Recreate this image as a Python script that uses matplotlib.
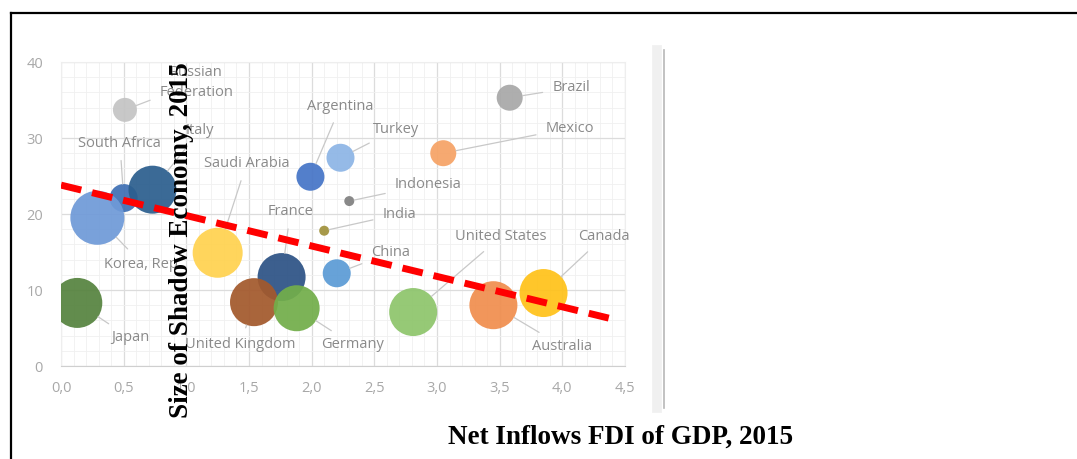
import matplotlib
matplotlib.use("Agg")
import matplotlib.pyplot as plt
from matplotlib.lines import Line2D
from matplotlib.ticker import MultipleLocator, FixedLocator

# data
countries = ["Japan", "South Africa", "Italy", "Korea, Rep.", "Russian\nFederation",
             "Saudi Arabia", "France", "United Kingdom", "Germany", "Argentina",
             "Turkey", "Indonesia", "India", "China", "United States", "Mexico",
             "Brazil", "Australia", "Canada"]
fdi = [0.13, 0.50, 0.73, 0.29, 0.51, 1.25, 1.76, 1.54, 1.88, 1.99,
       2.23, 2.30, 2.10, 2.20, 2.81, 3.05, 3.58, 3.45, 3.85]
shadow = [8.3, 22.1, 23.2, 19.5, 33.7, 14.9, 11.7, 8.4, 7.6, 24.9,
          27.4, 21.7, 17.8, 12.2, 7.1, 28.0, 35.3, 8.0, 9.6]
bubble = [25, 14, 24, 27, 12, 25, 24, 24, 23, 14,
          14, 5, 5, 14, 24, 13, 13, 24, 24]
colors = ["#56833f", "#3f70b4", "#2c5f8e", "#6f9ad8", "#c4c4c4",
          "#ffd24f", "#2d5385", "#a3592c", "#72ae4a", "#4675c7",
          "#8db5e6", "#808080", "#a0913c", "#5b9bd5", "#8ec56c", "#f6a366",
          "#a8a8a8", "#f08e4e", "#ffc21a"]

# label anchor points (data units)
label_x = [0.55, 0.47, 1.11, 0.65, 1.08, 1.48, 1.83, 1.43, 2.33, 2.23,
           2.67, 2.93, 2.70, 2.63, 3.51, 4.06, 4.07, 4.00, 4.33]
label_y = [3.7, 29.3, 31.0, 13.4, 37.3, 26.6, 20.3, 2.8, 2.8, 34.2,
           31.1, 23.9, 20.0, 14.9, 17.0, 31.3, 36.6, 2.6, 17.0]

trend_x = [0.0, 4.37]
trend_y = [23.8, 6.3]

xticks = [0.0, 0.5, 1.0, 1.5, 2.0, 2.5, 3.0, 3.5, 4.0, 4.5]
yticks = [0, 10, 20, 30, 40]

fig = plt.figure(figsize=(10.77, 4.59), dpi=100)

# document-style frame lines (top and left) and chart image edge
fig.add_artist(Line2D([11 / 1077, 1.0], [1 - 13 / 459] * 2, color="black", lw=1.6))
fig.add_artist(Line2D([11 / 1077] * 2, [0.0, 1 - 13 / 459], color="black", lw=1.6))
fig.add_artist(Line2D([657 / 1077] * 2, [1 - 408 / 459, 1 - 50 / 459], color="#f0f0f0", lw=7))
fig.add_artist(Line2D([664 / 1077] * 2, [1 - 408 / 459, 1 - 50 / 459], color="#b8b8b8", lw=1.2))

ax = fig.add_axes([61 / 1077, 1 - 366 / 459, 564 / 1077, 304 / 459])
ax.set_xlim(0, 4.5)
ax.set_ylim(0, 40)
ax.xaxis.set_major_locator(FixedLocator(xticks))
ax.yaxis.set_major_locator(FixedLocator(yticks))
ax.xaxis.set_minor_locator(MultipleLocator(0.1))
ax.yaxis.set_minor_locator(MultipleLocator(2))
ax.set_xticklabels([f"{v:.1f}".replace(".", ",") for v in xticks])
ax.set_yticklabels([str(v) for v in yticks])
ax.grid(which="major", color="#dcdcdc", lw=0.9)
ax.grid(which="minor", color="#f0f0f0", lw=0.6)
ax.set_axisbelow(True)
for side in ["top", "right", "left"]:
    ax.spines[side].set_color("#eeeeee")
ax.spines["bottom"].set_color("#cfcfcf")
ax.tick_params(which="both", length=0, colors="#a8a8a8", labelsize=10.5)
ax.tick_params(axis="x", pad=11)
ax.tick_params(axis="y", pad=13)
for t in ax.get_xticklabels() + ax.get_yticklabels():
    t.set_family("Open Sans")

sizes = [(1.44 * r) ** 2 for r in bubble]
ax.scatter(fdi, shadow, s=sizes, c=colors, alpha=0.93, linewidths=0, zorder=3)

for name, x, y, lx, ly, r in zip(countries, fdi, shadow, label_x, label_y, bubble):
    ax.annotate(name, xy=(x, y), xytext=(lx, ly), ha="center", va="center",
                fontsize=10.5, color="#8a8a8a", family="Open Sans", zorder=4,
                linespacing=1.45,
                arrowprops=dict(arrowstyle="-", color="#c8c8c8", lw=0.9,
                                shrinkA=5, shrinkB=0.72 * r))

ax.plot(trend_x, trend_y, color="#ff0000", lw=5, ls=(0, (3, 1.6)), zorder=5,
        solid_capstyle="butt")

fig.text(181 / 1077, 1 - 240 / 459, "Size of Shadow Economy, 2015", rotation=90,
         ha="center", va="center", family="Liberation Serif", weight="bold",
         fontsize=19.5, zorder=10)
fig.text(621 / 1077, 1 - 437 / 459, "Net Inflows FDI of GDP, 2015",
         ha="center", va="center", family="Liberation Serif", weight="bold",
         fontsize=19.5)

fig.savefig("out.png", dpi=100)
